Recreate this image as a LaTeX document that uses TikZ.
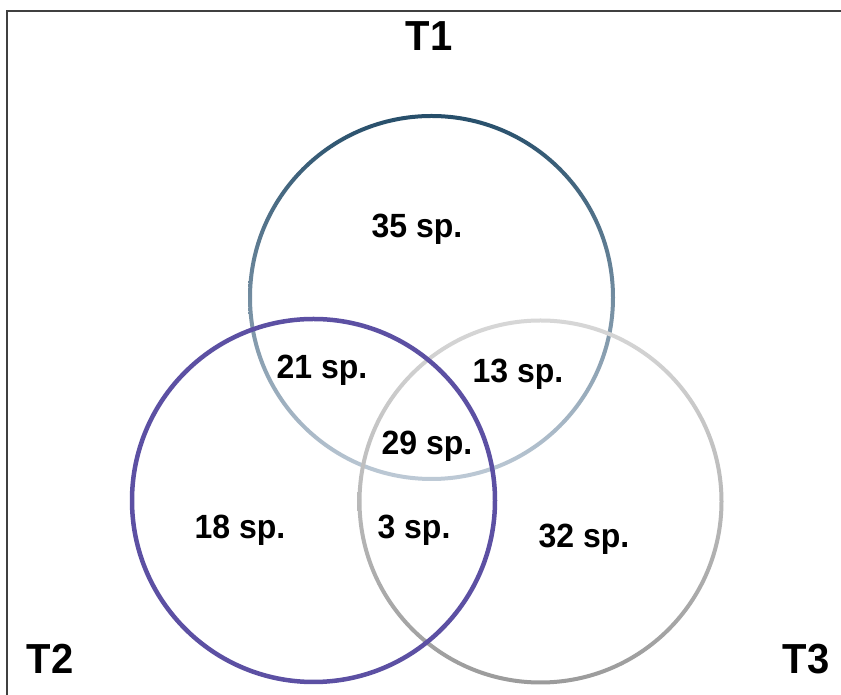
\documentclass[tikz,border=0pt]{standalone}
\usepackage{fontspec}
\setmainfont{Liberation Sans}
\begin{document}
\begin{tikzpicture}[x=1pt,y=1pt,
  lbl/.style={font=\bfseries\fontsize{40}{40}\selectfont, inner sep=0pt, anchor=base, yscale=1.05},
  cnt/.style={font=\bfseries\fontsize{32}{32}\selectfont, inner sep=0pt, anchor=base, yscale=1.05},
  frameline/.style={line width=2.5pt, color=black!75}]
\useasboundingbox (0,0) rectangle (841,695);
\fill[white] (0,0) rectangle (841,695);
\draw[frameline] (7,0) -- (7,684) -- (841,684);
\coordinate (c1) at (431.5,397.5);
\coordinate (c2) at (313.5,194.5);
\coordinate (c3) at (540.5,193.5);
% T1 circle (dark at top, light at bottom)
\shade[even odd rule, top color={rgb,255:red,38;green,78;blue,106}, middle color={rgb,255:red,68;green,102;blue,132}, bottom color={rgb,255:red,190;green,202;blue,214}]
  (c1) circle (183.5) (c1) circle (179.5);
% T3 circle (gray)
\shade[even odd rule, shading angle=135, top color={rgb,255:red,215;green,215;blue,215}, bottom color={rgb,255:red,155;green,155;blue,155}]
  (c3) circle (183) (c3) circle (179);
% T2 circle (purple)
\draw[line width=4.5pt, color={rgb,255:red,92;green,80;blue,163}] (c2) circle (181.5);
\node[lbl] (t1) at (429,644) {T1};
\node[lbl] (t2) at (50,21) {T2};
\node[lbl] (t3) at (806,21) {T3};
\node[cnt] (n35) at (417,457) {35 sp.};
\node[cnt] (n21) at (322,316) {21 sp.};
\node[cnt] (n13) at (518,312) {13 sp.};
\node[cnt] (n29) at (427,240) {29 sp.};
\node[cnt] (n18) at (240,156) {18 sp.};
\node[cnt] (n3) at (414,156) {3 sp.};
\node[cnt] (n32) at (584,147) {32 sp.};
\end{tikzpicture}
\end{document}
